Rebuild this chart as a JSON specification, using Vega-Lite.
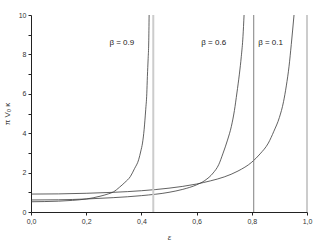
{
  "$schema": "https://vega.github.io/schema/vega-lite/v6.json",
  "width": 276,
  "height": 197,
  "autosize": {"type": "none"},
  "padding": {"left": 31, "top": 15, "right": 20, "bottom": 31},
  "background": "white",
  "config": {
    "view": {"stroke": null},
    "font": "Liberation Sans",
    "axis": {
      "grid": false,
      "domainColor": "#222",
      "domainWidth": 1,
      "tickColor": "#222",
      "tickSize": 3,
      "labelFontSize": 7,
      "labelColor": "#333",
      "labelOverlap": false,
      "labelFlush": false,
      "titleFontSize": 8,
      "titleFontWeight": "normal",
      "titleColor": "#333"
    }
  },
  "datasets": {
    "curves": [
      {"eps": 0.0, "k": 0.91, "beta": "0.1"},
      {"eps": 0.1, "k": 0.92, "beta": "0.1"},
      {"eps": 0.2, "k": 0.95, "beta": "0.1"},
      {"eps": 0.3, "k": 1.0, "beta": "0.1"},
      {"eps": 0.4, "k": 1.08, "beta": "0.1"},
      {"eps": 0.5, "k": 1.21, "beta": "0.1"},
      {"eps": 0.6, "k": 1.42, "beta": "0.1"},
      {"eps": 0.65, "k": 1.58, "beta": "0.1"},
      {"eps": 0.7, "k": 1.78, "beta": "0.1"},
      {"eps": 0.75, "k": 2.08, "beta": "0.1"},
      {"eps": 0.8, "k": 2.53, "beta": "0.1"},
      {"eps": 0.83, "k": 2.95, "beta": "0.1"},
      {"eps": 0.86, "k": 3.5, "beta": "0.1"},
      {"eps": 0.88, "k": 4.1, "beta": "0.1"},
      {"eps": 0.9, "k": 4.8, "beta": "0.1"},
      {"eps": 0.915, "k": 5.6, "beta": "0.1"},
      {"eps": 0.925, "k": 6.4, "beta": "0.1"},
      {"eps": 0.935, "k": 7.4, "beta": "0.1"},
      {"eps": 0.943, "k": 8.5, "beta": "0.1"},
      {"eps": 0.953, "k": 10.0, "beta": "0.1"},
      {"eps": 0.0, "k": 0.61, "beta": "0.6"},
      {"eps": 0.1, "k": 0.62, "beta": "0.6"},
      {"eps": 0.2, "k": 0.66, "beta": "0.6"},
      {"eps": 0.3, "k": 0.73, "beta": "0.6"},
      {"eps": 0.4, "k": 0.83, "beta": "0.6"},
      {"eps": 0.5, "k": 1.0, "beta": "0.6"},
      {"eps": 0.55, "k": 1.15, "beta": "0.6"},
      {"eps": 0.6, "k": 1.38, "beta": "0.6"},
      {"eps": 0.63, "k": 1.6, "beta": "0.6"},
      {"eps": 0.66, "k": 1.98, "beta": "0.6"},
      {"eps": 0.68, "k": 2.4, "beta": "0.6"},
      {"eps": 0.696, "k": 2.99, "beta": "0.6"},
      {"eps": 0.712, "k": 3.65, "beta": "0.6"},
      {"eps": 0.726, "k": 4.35, "beta": "0.6"},
      {"eps": 0.737, "k": 5.15, "beta": "0.6"},
      {"eps": 0.746, "k": 6.04, "beta": "0.6"},
      {"eps": 0.755, "k": 7.0, "beta": "0.6"},
      {"eps": 0.762, "k": 7.9, "beta": "0.6"},
      {"eps": 0.768, "k": 8.9, "beta": "0.6"},
      {"eps": 0.772, "k": 10.0, "beta": "0.6"},
      {"eps": 0.0, "k": 0.52, "beta": "0.9"},
      {"eps": 0.05, "k": 0.53, "beta": "0.9"},
      {"eps": 0.1, "k": 0.55, "beta": "0.9"},
      {"eps": 0.15, "k": 0.59, "beta": "0.9"},
      {"eps": 0.2, "k": 0.66, "beta": "0.9"},
      {"eps": 0.25, "k": 0.8, "beta": "0.9"},
      {"eps": 0.28, "k": 0.92, "beta": "0.9"},
      {"eps": 0.3, "k": 1.03, "beta": "0.9"},
      {"eps": 0.32, "k": 1.25, "beta": "0.9"},
      {"eps": 0.34, "k": 1.5, "beta": "0.9"},
      {"eps": 0.36, "k": 1.8, "beta": "0.9"},
      {"eps": 0.375, "k": 2.2, "beta": "0.9"},
      {"eps": 0.39, "k": 2.65, "beta": "0.9"},
      {"eps": 0.398, "k": 3.1, "beta": "0.9"},
      {"eps": 0.404, "k": 3.5, "beta": "0.9"},
      {"eps": 0.41, "k": 4.2, "beta": "0.9"},
      {"eps": 0.4156, "k": 5.19, "beta": "0.9"},
      {"eps": 0.4195, "k": 6.0, "beta": "0.9"},
      {"eps": 0.4217, "k": 6.88, "beta": "0.9"},
      {"eps": 0.4245, "k": 7.8, "beta": "0.9"},
      {"eps": 0.4265, "k": 8.58, "beta": "0.9"},
      {"eps": 0.428, "k": 10.0, "beta": "0.9"}
    ],
    "asymptotes": [
      {"eps": 0.443, "shade": "light"},
      {"eps": 0.807, "shade": "dark"},
      {"eps": 1.0, "shade": "light"}
    ],
    "labels": [
      {"eps": 0.329, "k": 8.6, "text": "β = 0.9"},
      {"eps": 0.662, "k": 8.6, "text": "β = 0.6"},
      {"eps": 0.868, "k": 8.6, "text": "β = 0.1"}
    ]
  },
  "layer": [
    {
      "data": {"name": "curves"},
      "mark": {"type": "line", "color": "#3a3a3a", "strokeWidth": 0.8, "interpolate": "monotone", "clip": true},
      "encoding": {
        "x": {
          "field": "eps", "type": "quantitative",
          "scale": {"domain": [0, 1], "nice": false, "zero": false},
          "axis": {
            "title": "ε",
            "titleFontStyle": "italic",
            "titlePadding": 9,
            "labelOverlap": false,
            "values": [0, 0.1, 0.2, 0.3, 0.4, 0.5, 0.6, 0.7, 0.8, 0.9, 1.0],
            "labelExpr": "round(datum.value*10) % 2 == 0 ? replace(format(datum.value, '.1f'), '.', ',') : ''",
            "labelPadding": 2
          }
        },
        "y": {
          "field": "k", "type": "quantitative",
          "scale": {"domain": [0, 10], "nice": false},
          "axis": {
            "title": "π V₀ κ",
            "titlePadding": 7,
            "labelOverlap": false,
            "tickCount": 11,
            "values": [0, 1, 2, 3, 4, 5, 6, 7, 8, 9, 10],
            "labelExpr": "datum.value % 2 == 0 ? format(datum.value, 'd') : ''",
            "labelPadding": 2
          }
        },
        "detail": {"field": "beta", "type": "nominal"}
      }
    },
    {
      "data": {"name": "asymptotes"},
      "mark": {"type": "rule"},
      "encoding": {
        "x": {"field": "eps", "type": "quantitative"},
        "color": {
          "field": "shade", "type": "nominal",
          "scale": {"domain": ["light", "dark"], "range": ["#cccccc", "#808080"]},
          "legend": null
        },
        "strokeWidth": {
          "field": "shade", "type": "nominal",
          "scale": {"domain": ["light", "dark"], "range": [2, 1]},
          "legend": null
        }
      }
    },
    {
      "data": {"name": "labels"},
      "mark": {"type": "text", "fontSize": 8, "color": "#222", "font": "Liberation Sans"},
      "encoding": {
        "x": {"field": "eps", "type": "quantitative"},
        "y": {
          "field": "k", "type": "quantitative",
          "axis": {
            "title": "π V₀ κ",
            "titlePadding": 7,
            "labelOverlap": false,
            "tickCount": 11,
            "values": [0, 1, 2, 3, 4, 5, 6, 7, 8, 9, 10],
            "labelExpr": "datum.value % 2 == 0 ? format(datum.value, 'd') : ''",
            "labelPadding": 2
          }
        },
        "text": {"field": "text"}
      }
    }
  ]
}
